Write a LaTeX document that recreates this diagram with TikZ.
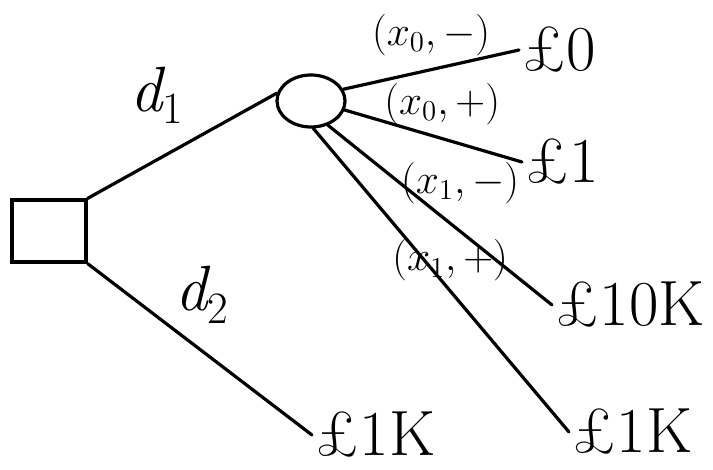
\documentclass[tikz,border=0pt]{standalone}
\usepackage{amsmath,amssymb}
\usetikzlibrary{shapes.geometric,positioning}

\tikzset{
  decision/.style={draw, rectangle, minimum width=37pt, minimum height=31pt},
  chance/.style={draw, ellipse, minimum width=34pt, minimum height=26pt},
  payoff/.style={anchor=west, inner sep=1pt, font=\fontsize{32}{38}\selectfont},
  choice/.style={inner sep=1pt, font=\fontsize{32}{36}\selectfont\itshape},
  outcome/.style={inner sep=1pt, font=\fontsize{20.74}{24}\selectfont}
}

\begin{document}
\begin{tikzpicture}[x=0.5pt,y=-0.5pt,line width=1.6pt,line cap=round]
\useasboundingbox (0,0) rectangle (713,470);
\node[decision] (dec)    at (49,231)  {};
\node[chance]   (chance) at (311,101) {};
\node[payoff] (p0)   at (519,50)  {£0};
\node[payoff] (p1)   at (522,162) {£1};
\node[payoff] (p10k) at (552,305) {£10K};
\node[payoff] (p1kb) at (569,432) {£1K};
\node[payoff] (p1ka) at (312,435) {£1K};
\draw (dec.north east) -- node[choice,pos=.37,above=16pt]{d\textsubscript{\upshape 1}} (chance.167);
\draw (dec.south east) -- node[choice,pos=.51,above=12pt]{d\textsubscript{\upshape 2}} (p1ka.west);
\draw (chance.20)  -- node[outcome,pos=.5,above=5pt]{$(x_0,-)$} (p0.west);
\draw (chance.-15) -- node[outcome,pos=.55,above=5pt]{$(x_0,+)$} (p1.west);
\draw (chance.-55) -- node[outcome,pos=.59,above=12pt]{$(x_1,-)$} (p10k.west);
\draw (chance.-85) -- node[outcome,pos=.535,above=3pt]{$(x_1,+)$} (p1kb.west);
\end{tikzpicture}
\end{document}
